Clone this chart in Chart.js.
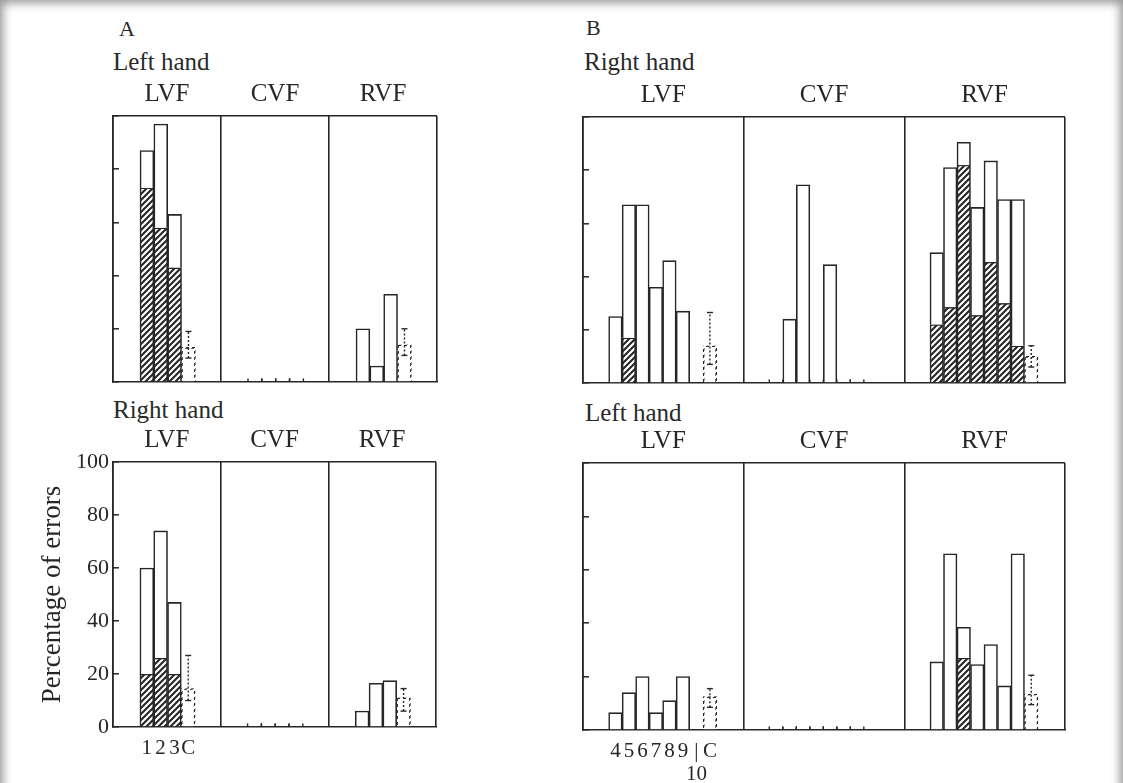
<!DOCTYPE html>
<html>
<head>
<meta charset="utf-8">
<script src="https://cdn.jsdelivr.net/npm/chart.js@4.4.1/dist/chart.umd.min.js"></script>
<style>
  html, body { margin: 0; padding: 0; background: #fff; }
  #page { position: relative; width: 1123px; height: 783px; overflow: hidden;
          font-family: "Liberation Serif", "DejaVu Serif", serif; color: #2a2a2a; }
  #frame { position: absolute; left: 0; top: 0; width: 1123px; height: 830px; z-index: 5;
           box-shadow: inset 0 0 10px 3px rgba(80, 80, 80, 0.6); pointer-events: none; }
  .lbl { position: absolute; font-size: 25px; line-height: 1; white-space: nowrap; }
  .panel { position: absolute; }
</style>
</head>
<body>
<div id="page">
  <div id="frame"></div>
  <div class="lbl" style="left:119px; top:18px; font-size:22px">A</div>
  <div class="lbl" style="left:113px; top:49px">Left hand</div>
  <div class="lbl" style="left:586px; top:17px; font-size:22px">B</div>
  <div class="lbl" style="left:584px; top:49px">Right hand</div>
  <div class="lbl" style="left:113px; top:397px">Right hand</div>
  <div class="lbl" style="left:585px; top:400px">Left hand</div>

  <div class="panel" id="pAL"><canvas id="cAL"></canvas></div>
  <div class="panel" id="pAR"><canvas id="cAR"></canvas></div>
  <div class="panel" id="pBR"><canvas id="cBR"></canvas></div>
  <div class="panel" id="pBL"><canvas id="cBL"></canvas></div>
</div>

<script>
var fields = ['LVF', 'CVF', 'RVF'];
var condA = ['1', '2', '3'];
var condB = ['4', '5', '6', '7', '8', '9', '10'];
var controlLabel = 'C';

// A, left hand  (LVF, CVF, RVF in turn); null = not plotted, 0 = zero errors
var aLeftTotal = [87, 97, 63,   0, 0, 0,   20, 6, 33];
var aLeftHatch = [73, 58, 43,   0, 0, 0,   0, 0, 0];
var aLeftCtrl = [13, 0, 14];
var aLeftCtrlLo = [9, null, 10];
var aLeftCtrlHi = [19, null, 20];

// A, right hand
var aRightTotal = [60, 74, 47,   0, 0, 0,   6, 16.5, 17.5];
var aRightHatch = [20, 26, 20,   0, 0, 0,   0, 0, 0];
var aRightCtrl = [14.5, 0, 11];
var aRightCtrlLo = [10, null, 6];
var aRightCtrlHi = [27, null, 14.5];

// B, right hand
var bRightTotal = [25, 67, 67, 36, 46, 27, null,
                   0, 24, 74.5, 0, 44.5, 0, 0,
                   49, 81, 90.5, 66, 83.5, 69, 69];
var bRightHatch = [0, 17, 0, 0, 0, 0, 0,
                   0, 0, 0, 0, 0, 0, 0,
                   22, 28.5, 82, 25.5, 45.5, 30, 14];
var bRightCtrl = [14, null, 10];
var bRightCtrlLo = [7, null, 6];
var bRightCtrlHi = [26.5, null, 14];

// B, left hand
var bLeftTotal = [6.5, 14, 20, 6.5, 11, 20, null,
                  0, 0, 0, 0, 0, 0, 0,
                  25.5, 66, 38.5, 24.5, 32, 16.5, 66];
var bLeftHatch = [0, 0, 0, 0, 0, 0, 0,
                  0, 0, 0, 0, 0, 0, 0,
                  0, 0, 27, 0, 0, 0, 0];
var bLeftCtrl = [12.5, null, 13.5];
var bLeftCtrlLo = [8.5, null, 9.5];
var bLeftCtrlHi = [15.5, null, 20.5];

var yMax = 100;
var yStep = 20;

var INK = '#262626';
var FONT = '"Liberation Serif", "DejaVu Serif", serif';
var ML = 90, MT = 50, MB = 60, MR = 12;

function hatchPattern() {
  var c = document.createElement('canvas');
  c.width = 6; c.height = 6;
  var g = c.getContext('2d');
  g.fillStyle = '#fff';
  g.fillRect(0, 0, 6, 6);
  g.strokeStyle = INK;
  g.lineWidth = 2.1;
  g.beginPath();
  g.moveTo(-1, 7); g.lineTo(7, -1);
  g.moveTo(-4, 4); g.lineTo(4, -4);
  g.moveTo(2, 10); g.lineTo(10, 2);
  g.stroke();
  return g.createPattern(c, 'repeat');
}

function dashPattern() {
  var c = document.createElement('canvas');
  c.width = 6; c.height = 6;
  var g = c.getContext('2d');
  g.fillStyle = INK;
  for (var y = 0; y < 6; y++) {
    for (var x = 0; x < 6; x++) {
      if ((x + y) % 6 < 3) g.fillRect(x, y, 1, 1);
    }
  }
  return g.createPattern(c, 'repeat');
}

var HATCH = hatchPattern();
var DASH = dashPattern();

function makePanel(name, box, cond, W, pad, total, hatch, ctrl, lo, hi, showY, showX) {
  var holder = document.getElementById('p' + name);
  holder.style.left = (box.l - ML) + 'px';
  holder.style.top = (box.t - MT) + 'px';
  holder.style.width = (box.w + ML + MR) + 'px';
  holder.style.height = (box.h + MT + MB) + 'px';

  var n = cond.length;
  var openPts = [], hatchPts = [], ctrlPts = [], zeroPts = [], errPts = [];
  for (var f = 0; f < 3; f++) {
    for (var i = 0; i < n; i++) {
      var x = f * W + pad + i + 0.5;
      var t = total[f * n + i], h = hatch[f * n + i] || 0;
      if (t === null) continue;
      if (t === 0) {
        zeroPts.push({x: x - 0.5, y: 0.6}, {x: x + 0.5, y: 0.6});
        continue;
      }
      if (h > 0) hatchPts.push({x: x, y: [0, h]});
      openPts.push({x: x, y: [h, t]});
    }
    var xc = f * W + pad + n + 0.5;
    if (ctrl[f] === null) continue;
    if (ctrl[f] === 0) {
      zeroPts.push({x: xc - 0.5, y: 0.6}, {x: xc + 0.5, y: 0.6});
      continue;
    }
    ctrlPts.push({x: xc, y: ctrl[f]});
    errPts.push({x: xc, y: lo[f]}, {x: xc, y: hi[f]}, {x: xc, y: null});
  }

  var tickPos = [], tickLab = [];
  cond.concat([controlLabel]).forEach(function (lab, i) {
    tickPos.push(pad + i + 0.5);
    tickLab.push(lab.length > 1 ? ['|', lab] : lab);
  });

  var barOpts = {
    type: 'bar', xAxisID: 'x', grouped: false,
    barPercentage: 1, categoryPercentage: 1,
    borderWidth: 1.6, borderColor: INK, borderSkipped: 'start'
  };

  new Chart(document.getElementById('c' + name), {
    type: 'bar',
    data: {
      datasets: [
        {
          type: 'line', xAxisID: 'x', data: errPts, spanGaps: false,
          borderColor: INK, borderWidth: 1.4, borderDash: [2, 2],
          pointStyle: 'line', pointRadius: 3, pointBorderWidth: 1.4, pointBorderColor: INK
        },
        {
          type: 'line', xAxisID: 'x', data: zeroPts, showLine: false,
          pointStyle: 'line', rotation: 90, pointRadius: 2,
          pointBorderWidth: 1.4, pointBorderColor: INK
        },
        Object.assign({data: openPts, backgroundColor: '#fff'}, barOpts),
        Object.assign({data: hatchPts, backgroundColor: HATCH}, barOpts),
        Object.assign({data: ctrlPts, backgroundColor: '#fff'}, barOpts, {borderColor: DASH})
      ]
    },
    options: {
      responsive: true,
      maintainAspectRatio: false,
      animation: false,
      events: [],
      layout: { padding: { left: 0, right: MR, top: 0, bottom: 0 } },
      plugins: { legend: { display: false }, tooltip: { enabled: false } },
      scales: {
        x: {
          type: 'linear', min: 0, max: 3 * W, offset: false,
          afterBuildTicks: function (axis) {
            axis.ticks = tickPos.map(function (v) { return {value: v}; });
          },
          afterFit: function (axis) { axis.height = MB; },
          grid: { display: false, offset: false },
          border: { display: true, color: INK, width: 1.6 },
          ticks: {
            display: showX, autoSkip: false, maxRotation: 0, padding: 2, color: INK,
            font: { family: FONT, size: 21, lineHeight: 1.1 },
            callback: function (v, i) { return tickLab[i]; }
          }
        },
        x2: {
          type: 'linear', position: 'top', min: 0, max: 3 * W, offset: false,
          afterBuildTicks: function (axis) {
            axis.ticks = [0, 0.5, 1, 1.5, 2, 2.5, 3].map(function (k) { return {value: k * W}; });
          },
          afterFit: function (axis) { axis.height = MT; },
          grid: {
            offset: false, drawTicks: false, lineWidth: 1.6,
            color: function (ctx) { return ctx.index % 2 === 0 ? INK : 'transparent'; }
          },
          border: { display: false },
          ticks: {
            autoSkip: false, maxRotation: 0, padding: 7, color: INK,
            font: { family: FONT, size: 25 },
            callback: function (v, i) { return i % 2 ? fields[(i - 1) / 2] : ''; }
          }
        },
        y: {
          min: 0, max: yMax,
          afterFit: function (axis) { axis.width = ML; },
          grid: {
            lineWidth: 1.6, tickLength: -6, tickColor: INK, tickWidth: 1.5,
            color: function (ctx) { return ctx.tick && ctx.tick.value === yMax ? INK : 'transparent'; }
          },
          border: { display: true, color: INK, width: 1.6 },
          ticks: {
            display: showY, stepSize: yStep, padding: 10, color: INK,
            font: { family: FONT, size: 22 }
          },
          title: {
            display: showY, text: 'Percentage of errors', color: INK,
            font: { family: FONT, size: 27 }, padding: { top: 14, bottom: 0 }
          }
        }
      }
    }
  });
}

makePanel('AL', {l: 113, t: 116, w: 324, h: 266}, condA, 7.8, 1.95,
  aLeftTotal, aLeftHatch, aLeftCtrl, aLeftCtrlLo, aLeftCtrlHi, false, false);
makePanel('AR', {l: 113, t: 462, w: 323, h: 265}, condA, 7.8, 1.95,
  aRightTotal, aRightHatch, aRightCtrl, aRightCtrlLo, aRightCtrlHi, true, true);
makePanel('BR', {l: 583, t: 117, w: 482, h: 266}, condB, 11.9, 1.9,
  bRightTotal, bRightHatch, bRightCtrl, bRightCtrlLo, bRightCtrlHi, false, false);
makePanel('BL', {l: 583, t: 463, w: 482, h: 267}, condB, 11.9, 1.9,
  bLeftTotal, bLeftHatch, bLeftCtrl, bLeftCtrlLo, bLeftCtrlHi, false, true);
</script>
</body>
</html>
